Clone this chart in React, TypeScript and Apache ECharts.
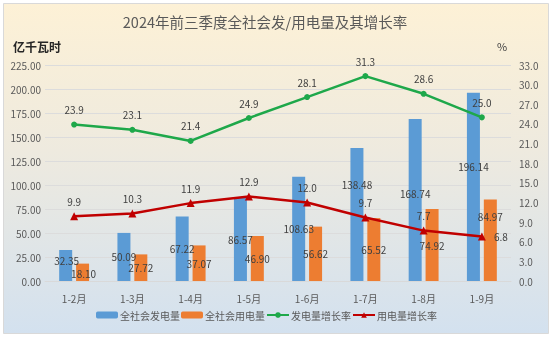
import React, { useEffect, useRef } from "react";
import * as echarts from "echarts";

const categories = ["1-2月", "1-3月", "1-4月", "1-5月", "1-6月", "1-7月", "1-8月", "1-9月"];
const generation = [32.35, 50.09, 67.22, 86.57, 108.63, 138.48, 168.74, 196.14];
const consumption = [18.1, 27.72, 37.07, 46.9, 56.62, 65.52, 74.92, 84.97];
const generationGrowth = [23.9, 23.1, 21.4, 24.9, 28.1, 31.3, 28.6, 25.0];
const consumptionGrowth = [9.9, 10.3, 11.9, 12.9, 12.0, 9.7, 7.7, 6.8];
const seriesNames = ["全社会发电量", "全社会用电量", "发电量增长率", "用电量增长率"];

// label nudges (style only), by category index: [dx, dy] in pixels
const genLabelNudge: Record<number, number[]> = { 0: [1, -5], 5: [0, -30], 6: [0, -7], 7: [0, -20] };
const consLabelNudge: Record<number, number[]> = { 0: [1, 1], 7: [0, -24] };

const FONT = "'Noto Sans CJK SC', 'Noto Sans', sans-serif";

export default function App() {
  const ref = useRef<HTMLDivElement>(null);
  useEffect(() => {
    if (!ref.current) return;
    const chart = echarts.init(ref.current, undefined, { renderer: "svg" });
    const labelStyle = { color: "#404040", fontSize: 10, fontFamily: FONT };
    const withNudge = (vals: number[], nudge: Record<number, number[]>) =>
      vals.map((v, i) => (nudge[i] ? { value: v, label: { offset: nudge[i] } } : v));
    chart.setOption({
      animation: false,
      textStyle: { fontFamily: FONT },
      graphic: [
        {
          type: "rect",
          z: -10,
          shape: { x: 3.5, y: 3.5, width: 545, height: 330 },
          style: {
            fill: new echarts.graphic.LinearGradient(0, 0, 0, 1, [
              { offset: 0, color: "#fdf1d6" },
              { offset: 0.45, color: "#eeeadf" },
              { offset: 1, color: "#d3e1ef" },
            ]),
            stroke: "#d9d9d9",
            lineWidth: 1,
          },
        },
        {
          type: "text",
          left: 13,
          top: 40,
          style: { text: "亿千瓦时", fontSize: 12, fontWeight: "bold", fill: "#262626", fontFamily: FONT },
        },
        {
          type: "text",
          left: 497,
          top: 40,
          style: { text: "%", fontSize: 11, fill: "#404040", fontFamily: FONT },
        },
      ],
      title: {
        text: "2024年前三季度全社会发/用电量及其增长率",
        left: 260,
        textAlign: "center",
        top: 9,
        textStyle: { fontSize: 14.5, fontWeight: "normal", color: "#595959", fontFamily: FONT },
      },
      legend: {
        bottom: 14,
        left: 91,
        itemGap: 1,
        itemWidth: 22,
        itemHeight: 7,
        data: seriesNames,
        textStyle: { fontSize: 10, color: "#595959", fontFamily: FONT, padding: [0, 0, 0, -3] },
      },
      grid: { left: 45, right: 43, top: 65, bottom: 58 },
      xAxis: {
        type: "category",
        data: categories,
        axisLine: { lineStyle: { color: "#d9d9d9" } },
        axisTick: { show: false },
        axisLabel: { color: "#595959", fontSize: 10, margin: 12 },
      },
      yAxis: [
        {
          type: "value",
          min: 0,
          max: 225,
          interval: 25,
          axisLine: { show: false },
          axisTick: { show: false },
          splitLine: { lineStyle: { color: "#dcdcdc" } },
          axisLabel: { color: "#595959", fontSize: 10, margin: 4, formatter: (v: number) => v.toFixed(2) },
        },
        {
          type: "value",
          min: 0,
          max: 33,
          interval: 3,
          axisLine: { show: false },
          axisTick: { show: false },
          splitLine: { show: false },
          axisLabel: { color: "#595959", fontSize: 10, formatter: (v: number) => v.toFixed(1) },
        },
      ],
      series: [
        {
          name: seriesNames[0],
          type: "bar",
          data: withNudge(generation, genLabelNudge),
          barWidth: 13,
          barGap: "30%",
          itemStyle: { color: "#5b9bd5" },
          label: { show: true, position: "inside", ...labelStyle, formatter: (p: any) => Number(p.value).toFixed(2) },
        },
        {
          name: seriesNames[1],
          type: "bar",
          data: withNudge(consumption, consLabelNudge),
          barWidth: 13,
          itemStyle: { color: "#ed7d31" },
          label: { show: true, position: "inside", ...labelStyle, formatter: (p: any) => Number(p.value).toFixed(2) },
        },
        {
          name: seriesNames[2],
          type: "line",
          yAxisIndex: 1,
          data: generationGrowth,
          symbol: "circle",
          symbolSize: 6,
          lineStyle: { color: "#1ea84a", width: 2.5 },
          itemStyle: { color: "#1ea84a" },
          label: { show: true, position: "top", distance: 7, ...labelStyle, formatter: (p: any) => Number(p.value).toFixed(1) },
        },
        {
          name: seriesNames[3],
          type: "line",
          yAxisIndex: 1,
          data: consumptionGrowth.map((v, i) =>
            i === consumptionGrowth.length - 1 ? { value: v, label: { position: "right", distance: 8 } } : v
          ),
          symbol: "triangle",
          symbolSize: 8,
          lineStyle: { color: "#c00000", width: 2.5 },
          itemStyle: { color: "#c00000" },
          label: { show: true, position: "top", distance: 6, ...labelStyle, formatter: (p: any) => Number(p.value).toFixed(1) },
        },
      ],
    });
    return () => chart.dispose();
  }, []);
  return <div ref={ref} style={{ position: "fixed", left: 0, top: 0, width: 554, height: 339 }} />;
}
